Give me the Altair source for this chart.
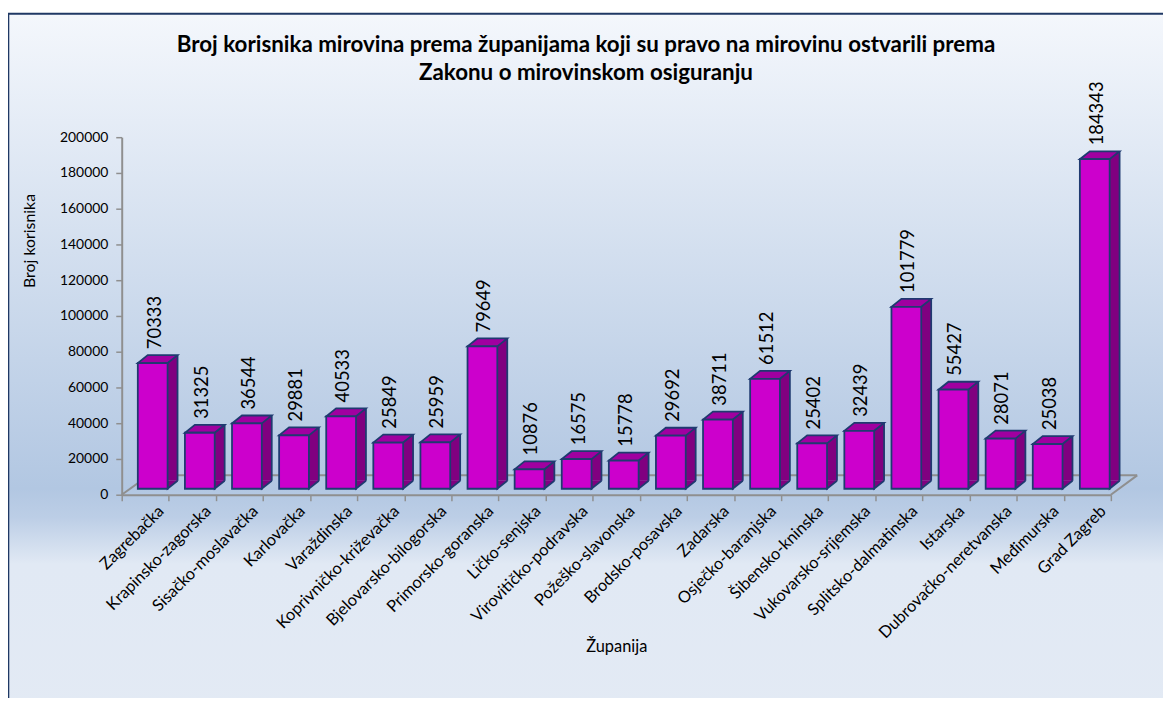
import altair as alt
import pandas as pd

# ---- data ----
zupanije = ["Zagrebačka", "Krapinsko-zagorska", "Sisačko-moslavačka", "Karlovačka",
            "Varaždinska", "Koprivničko-križevačka", "Bjelovarsko-bilogorska",
            "Primorsko-goranska", "Ličko-senjska", "Virovitičko-podravska",
            "Požeško-slavonska", "Brodsko-posavska", "Zadarska", "Osječko-baranjska",
            "Šibensko-kninska", "Vukovarsko-srijemska", "Splitsko-dalmatinska",
            "Istarska", "Dubrovačko-neretvanska", "Međimurska", "Grad Zagreb"]
korisnici = [70333, 31325, 36544, 29881, 40533, 25849, 25959, 79649, 10876, 16575,
             15778, 29692, 38711, 61512, 25402, 32439, 101779, 55427, 28071, 25038,
             184343]
y_ticks = [0, 20000, 40000, 60000, 80000, 100000, 120000, 140000, 160000, 180000, 200000]
naslov = ["Broj korisnika mirovina prema županijama koji su pravo na mirovinu ostvarili prema",
          "Zakonu o mirovinskom osiguranju"]

df = pd.DataFrame({"zupanija": zupanije, "broj": korisnici})
one = pd.DataFrame({"k": [0]})

# ---- style ----
FONT = "Lato"
FRONT = "#CC00CC"
SIDE = "#800080"
TOPC = "#A000A0"
NAVY = "#1F3A70"
GRAY = "#8F8F8F"
W, H = 996, 360

y_scale = alt.Scale(domain=[0, 200000], nice=False)
y_axis = alt.Axis(values=y_ticks, format="d", grid=False, labelFont=FONT,
                  labelFontSize=14, labelColor="#000000", labelPadding=8,
                  labelOverlap=False, tickSize=6, tickColor=GRAY,
                  tickWidth=1.5, domainColor=GRAY, domainWidth=2,
                  titleFont=FONT, titleFontSize=16,
                  titleFontWeight="normal", titleColor="#000000",
                  titleAngle=270, titleAlign="center",
                  titleBaseline="middle", titleX=-93, titleY=104, zindex=1)

base = alt.Chart(df).encode(
    x=alt.X("zupanija:N", sort=zupanije, title="Županija",
            scale=alt.Scale(paddingInner=0, paddingOuter=0),
            axis=alt.Axis(labelAngle=-45, labelFont=FONT, labelFontSize=16.5,
                          labelColor="#000000", labelPadding=2, labelOffset=10,
                          labelOverlap=False, labelLimit=300, tickBand="extent",
                          tickSize=6, tickColor=GRAY, tickWidth=1.5,
                          domainColor=GRAY, domainWidth=2, titleFont=FONT,
                          titleFontSize=16.5, titleFontWeight="normal",
                          titleColor="#000000", titleY=158,
                          titleBaseline="alphabetic", zindex=1)),
    y=alt.Y("broj:Q", title="Broj korisnika", scale=y_scale, axis=y_axis),
)

background = alt.Chart(one).mark_rect(
    fill=alt.LinearGradient(
        gradient="linear", x1=0, x2=0, y1=0, y2=1,
        stops=[alt.GradientStop(offset=0, color="#F4F7FC"),
               alt.GradientStop(offset=0.66, color="#B2C7E2"),
               alt.GradientStop(offset=0.70, color="#BCCEE6"),
               alt.GradientStop(offset=0.765, color="#E1E9F4"),
               alt.GradientStop(offset=1, color="#E3EAF4")]),
    stroke="#1F3864", strokeWidth=2,
).encode(x=alt.value(-114.2), x2=alt.value(1100), y=alt.value(-124.2), y2=alt.value(600))

title_style = dict(font=FONT, fontSize=22.5, fontWeight="bold", color="#000000",
                   align="center", baseline="alphabetic")
title1 = alt.Chart(one).mark_text(**title_style).encode(
    x=alt.value(467.5), y=alt.value(50 - 135.7), text=alt.value(naslov[0]))
title2 = alt.Chart(one).mark_text(**title_style).encode(
    x=alt.value(467.5), y=alt.value(78 - 135.7), text=alt.value(naslov[1]))

floor_style = dict(color=GRAY, strokeWidth=2)
floor_left = alt.Chart(one).mark_rule(**floor_style).encode(
    x=alt.value(0), x2=alt.value(27.2), y=alt.value(H), y2=alt.value(H - 19.5))
floor_back = alt.Chart(one).mark_rule(**floor_style).encode(
    x=alt.value(27.2), x2=alt.value(W + 26.5), y=alt.value(H - 19.5))
floor_right = alt.Chart(one).mark_rule(**floor_style).encode(
    x=alt.value(W), x2=alt.value(W + 26.5), y=alt.value(H), y2=alt.value(H - 19.5))

side = base.mark_bar(width=10, xOffset=27.5, yOffset=-14, y2Offset=-14, fill=SIDE)
side_edge = base.mark_rule(xOffset=32.5, yOffset=-14, y2Offset=-14, color=NAVY,
                           strokeWidth=1.8).encode(y2=alt.datum(0))
bottom_tri = base.mark_point(shape="M 25 -8 L 15 0 L 15 -8", size=4, filled=True,
                             fill=SIDE, stroke=NAVY, strokeWidth=1.8, opacity=1,
                             xOffset=7.5, yOffset=-6).encode(
    y=alt.YDatum(0, title="Broj korisnika", scale=y_scale, axis=y_axis))
top_face = base.mark_point(shape="M -15 0 L 15 0 L 25 -8 L -5 -8 Z", size=4,
                           filled=True, fill=TOPC, stroke=NAVY, strokeWidth=1.8,
                           opacity=1, xOffset=7.5, yOffset=-6)
front = base.mark_bar(width=30, xOffset=7.5, yOffset=-6, y2Offset=-6, fill=FRONT,
                      stroke=NAVY, strokeWidth=1.8)
labels = base.mark_text(angle=270, align="left", baseline="middle", xOffset=9.5,
                        yOffset=-20, font=FONT, fontSize=18.5,
                        color="#000000").encode(text=alt.Text("broj:Q", format="d"))

chart = alt.layer(
    background, title1, title2, floor_left, floor_back, floor_right,
    side, side_edge, bottom_tri, top_face, front, labels
).properties(
    width=W, height=H,
    padding={"left": 114.5, "top": 127.7, "right": 52.5, "bottom": 202.3},
    autosize=alt.AutoSizeParams(type="none"),
).configure_view(stroke=None).configure(background="white")

chart.save("out.html", embed_options={"renderer": "svg", "actions": False})
